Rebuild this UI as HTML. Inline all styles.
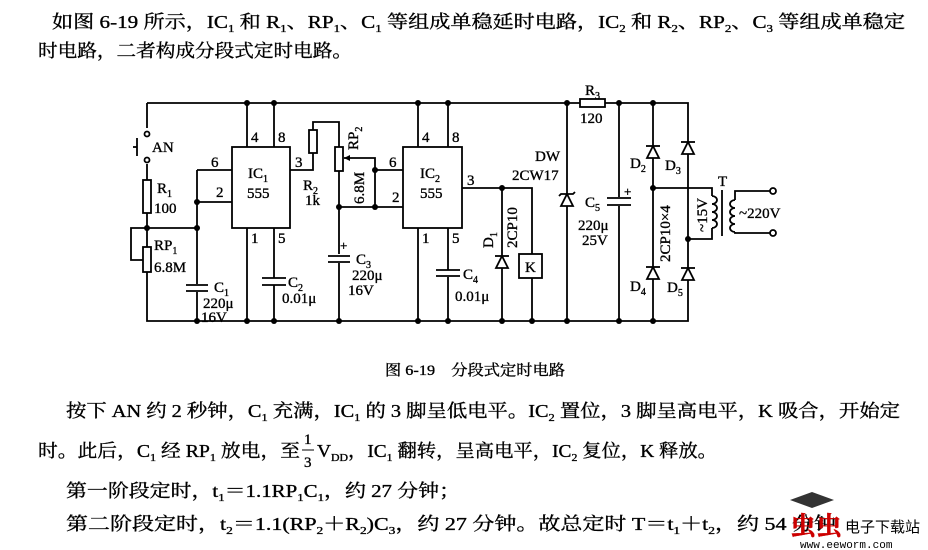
<!DOCTYPE html>
<html><head><meta charset="utf-8"><style>
html,body{margin:0;padding:0;background:#fff}
svg{display:block}
text{font-family:"Liberation Serif","Noto Serif CJK SC","Noto Sans CJK SC",serif;fill:#000;stroke:#000;stroke-width:0.35}
.t{font-size:18px}
.s{font-size:15px}
</style></head><body>
<svg width="928" height="550" viewBox="0 0 928 550" xmlns="http://www.w3.org/2000/svg">
<text class="t" x="52" y="28" textLength="853" lengthAdjust="spacingAndGlyphs">如图 6-19 所示，IC<tspan font-size="11" dy="4">1</tspan><tspan dy="-4"> 和 R</tspan><tspan font-size="11" dy="4">1</tspan><tspan dy="-4">、RP</tspan><tspan font-size="11" dy="4">1</tspan><tspan dy="-4">、C</tspan><tspan font-size="11" dy="4">1</tspan><tspan dy="-4"> 等组成单稳延时电路，IC</tspan><tspan font-size="11" dy="4">2</tspan><tspan dy="-4"> 和 R</tspan><tspan font-size="11" dy="4">2</tspan><tspan dy="-4">、RP</tspan><tspan font-size="11" dy="4">2</tspan><tspan dy="-4">、C</tspan><tspan font-size="11" dy="4">3</tspan><tspan dy="-4"> 等组成单稳定</tspan></text>
<text class="t" x="38" y="57" textLength="314" lengthAdjust="spacingAndGlyphs">时电路，二者构成分段式定时电路。</text>

<g stroke="#000" stroke-width="1.8" fill="none">
<polyline points="147,103 688,103 688,321 147,321 147,103"/>
<rect x="142" y="128" width="10" height="36" fill="#fff" stroke="none"/>
<circle cx="147" cy="134" r="2.5" fill="#fff"/>
<circle cx="147" cy="160" r="2.5" fill="#fff"/>
<line x1="137" y1="138" x2="137" y2="156"/>
<line x1="133" y1="147" x2="137" y2="147"/>
<rect x="143" y="180" width="8" height="33" fill="#fff"/>
<rect x="143" y="247" width="8" height="25" fill="#fff"/>
<polyline points="147,228 131,228 131,260 143,260"/>
<line x1="197" y1="170" x2="197" y2="321"/>
<rect x="186" y="284" width="22" height="8" fill="#fff" stroke="none"/>
<line x1="186" y1="285" x2="208" y2="285"/>
<line x1="186" y1="291" x2="208" y2="291"/>
<line x1="147" y1="228" x2="197" y2="228"/>
<line x1="197" y1="170" x2="232" y2="170"/>
<line x1="197" y1="202" x2="232" y2="202"/>
<rect x="232" y="147" width="58" height="81" fill="#fff"/>
<line x1="247" y1="103" x2="247" y2="147"/><line x1="274" y1="103" x2="274" y2="147"/>
<line x1="247" y1="228" x2="247" y2="321"/><line x1="274" y1="228" x2="274" y2="321"/>
<rect x="262" y="278" width="24" height="7" fill="#fff" stroke="none"/>
<line x1="262" y1="278" x2="286" y2="278"/><line x1="262" y1="285" x2="286" y2="285"/>
<polyline points="290,170 313,170 313,122 339,122 339,321"/>
<rect x="309" y="130" width="8" height="23" fill="#fff"/>
<rect x="335" y="147" width="8" height="24" fill="#fff"/>
<polyline points="344,158 375,158 375,207 339,207"/>
<line x1="375" y1="170" x2="403" y2="170"/>
<line x1="375" y1="207" x2="403" y2="207"/>
<rect x="327" y="254" width="24" height="9" fill="#fff" stroke="none"/>
<line x1="328" y1="256" x2="350" y2="256"/><line x1="328" y1="262" x2="350" y2="262"/>
<rect x="403" y="147" width="59" height="81" fill="#fff"/>
<line x1="418" y1="103" x2="418" y2="147"/><line x1="448" y1="103" x2="448" y2="147"/>
<line x1="418" y1="228" x2="418" y2="321"/><line x1="448" y1="228" x2="448" y2="321"/>
<rect x="436" y="270" width="24" height="7" fill="#fff" stroke="none"/>
<line x1="436" y1="270" x2="460" y2="270"/><line x1="436" y1="276" x2="460" y2="276"/>
<polyline points="462,188 532,188 532,321"/>
<line x1="502" y1="188" x2="502" y2="321"/>
<polygon points="496,268 508,268 502,256" fill="#fff"/>
<line x1="495" y1="256" x2="509" y2="256"/>
<rect x="519" y="254" width="23" height="24" fill="#fff"/>
<line x1="567" y1="103" x2="567" y2="321"/>
<polygon points="561,206 573,206 567,194" fill="#fff"/>
<polyline points="559,196 561,194 573,194 575,192"/>
<rect x="580" y="99" width="25" height="8" fill="#fff"/>
<line x1="619" y1="103" x2="619" y2="321"/>
<rect x="607" y="197" width="24" height="9" fill="#fff" stroke="none"/>
<line x1="607" y1="198" x2="631" y2="198"/><line x1="607" y1="205" x2="631" y2="205"/>
<line x1="653" y1="103" x2="653" y2="321"/>
<polygon points="647,158 659,158 653,146" fill="#fff"/><line x1="646" y1="146" x2="660" y2="146"/>
<polygon points="647,279 659,279 653,267" fill="#fff"/><line x1="646" y1="267" x2="660" y2="267"/>
<polygon points="682,154 694,154 688,142" fill="#fff"/><line x1="681" y1="142" x2="695" y2="142"/>
<polygon points="682,280 694,280 688,268" fill="#fff"/><line x1="681" y1="268" x2="695" y2="268"/>
<polyline points="653,188 712,188 712,196"/>
<polyline points="688,239 712,239 712,228"/>
<path d="M712,196 a5,4 0 0 1 0,8 a5,4 0 0 1 0,8 a5,4 0 0 1 0,8 a5,4 0 0 1 0,8"/>
<line x1="722" y1="190" x2="722" y2="236"/>
<path d="M735,200 a5,4 0 0 0 0,8 a5,4 0 0 0 0,8 a5,4 0 0 0 0,8 a5,4 0 0 0 0,8"/>
<polyline points="735,200 735,191 770,191"/>
<polyline points="735,232 735,233 770,233"/>
<circle cx="773" cy="191" r="3" fill="#fff"/>
<circle cx="773" cy="233" r="3" fill="#fff"/>
</g>
<g fill="#000">
<circle cx="247" cy="103" r="3"/><circle cx="274" cy="103" r="3"/>
<circle cx="418" cy="103" r="3"/><circle cx="448" cy="103" r="3"/>
<circle cx="567" cy="103" r="3"/><circle cx="619" cy="103" r="3"/><circle cx="653" cy="103" r="3"/>
<circle cx="147" cy="228" r="3"/><circle cx="197" cy="228" r="3"/><circle cx="197" cy="202" r="3"/>
<circle cx="375" cy="170" r="3"/><circle cx="375" cy="207" r="3"/><circle cx="339" cy="207" r="3"/>
<circle cx="502" cy="188" r="3"/><circle cx="653" cy="188" r="3"/><circle cx="688" cy="239" r="3"/>
<circle cx="197" cy="321" r="3"/><circle cx="247" cy="321" r="3"/><circle cx="274" cy="321" r="3"/>
<circle cx="339" cy="321" r="3"/><circle cx="418" cy="321" r="3"/><circle cx="448" cy="321" r="3"/>
<circle cx="502" cy="321" r="3"/><circle cx="532" cy="321" r="3"/><circle cx="567" cy="321" r="3"/>
<circle cx="619" cy="321" r="3"/><circle cx="653" cy="321" r="3"/>
<polygon points="344,158 350,155 350,161"/>
</g>
<g class="s">
<text x="152" y="152">AN</text>
<text x="157" y="193">R<tspan font-size="10" dy="4">1</tspan></text>
<text x="154" y="213">100</text>
<text x="154" y="250">RP<tspan font-size="10" dy="4">1</tspan></text>
<text x="154" y="272">6.8M</text>
<text x="214" y="292">C<tspan font-size="10" dy="4">1</tspan></text>
<text x="203" y="308">220μ</text>
<text x="201" y="322">16V</text>
<text x="211" y="167">6</text><text x="216" y="197">2</text>
<text x="251" y="142">4</text><text x="278" y="142">8</text>
<text x="251" y="243">1</text><text x="278" y="243">5</text>
<text x="248" y="178">IC<tspan font-size="10" dy="4">1</tspan></text>
<text x="247" y="198">555</text>
<text x="295" y="167">3</text>
<text x="303" y="190">R<tspan font-size="10" dy="4">2</tspan></text>
<text x="305" y="205">1k</text>
<text x="288" y="287">C<tspan font-size="10" dy="4">2</tspan></text>
<text x="282" y="303">0.01μ</text>
<text x="356" y="264">C<tspan font-size="10" dy="4">3</tspan></text>
<text x="352" y="280">220μ</text>
<text x="348" y="295">16V</text>
<text x="340" y="250" font-size="13">+</text>
<text transform="translate(358,150) rotate(-90)">RP<tspan font-size="10" dy="4">2</tspan></text>
<text transform="translate(364,204) rotate(-90)">6.8M</text>
<text x="389" y="167">6</text><text x="392" y="202">2</text>
<text x="422" y="142">4</text><text x="452" y="142">8</text>
<text x="422" y="243">1</text><text x="452" y="243">5</text>
<text x="420" y="178">IC<tspan font-size="10" dy="4">2</tspan></text>
<text x="420" y="198">555</text>
<text x="467" y="185">3</text>
<text x="463" y="279">C<tspan font-size="10" dy="4">4</tspan></text>
<text x="455" y="301">0.01μ</text>
<text transform="translate(493,248) rotate(-90)">D<tspan font-size="10" dy="4">1</tspan></text>
<text transform="translate(517,248) rotate(-90)">2CP10</text>
<text x="525" y="272">K</text>
<text x="535" y="161">DW</text>
<text x="512" y="180">2CW17</text>
<text x="585" y="95">R<tspan font-size="10" dy="4">3</tspan></text>
<text x="580" y="123">120</text>
<text x="585" y="207">C<tspan font-size="10" dy="4">5</tspan></text>
<text x="578" y="230">220μ</text>
<text x="582" y="245">25V</text>
<text x="624" y="196" font-size="13">+</text>
<text x="630" y="168">D<tspan font-size="10" dy="4">2</tspan></text>
<text x="665" y="170">D<tspan font-size="10" dy="4">3</tspan></text>
<text x="630" y="291">D<tspan font-size="10" dy="4">4</tspan></text>
<text x="667" y="292">D<tspan font-size="10" dy="4">5</tspan></text>
<text transform="translate(670,262) rotate(-90)">2CP10×4</text>
<text transform="translate(707,232) rotate(-90)">~15V</text>
<text x="718" y="186">T</text>
<text x="739" y="218">~220V</text>
</g>
<text class="s" x="385" y="375" textLength="180" lengthAdjust="spacingAndGlyphs">图 6-19　分段式定时电路</text>
<text class="t" x="66" y="417" textLength="834" lengthAdjust="spacingAndGlyphs">按下 AN 约 2 秒钟，C<tspan font-size="11" dy="4">1</tspan><tspan dy="-4"> 充满，IC</tspan><tspan font-size="11" dy="4">1</tspan><tspan dy="-4"> 的 3 脚呈低电平。IC</tspan><tspan font-size="11" dy="4">2</tspan><tspan dy="-4"> 置位，3 脚呈高电平，K 吸合，开始定</tspan></text>
<text class="t" x="38" y="457" textLength="262" lengthAdjust="spacingAndGlyphs">时。此后，C<tspan font-size="11" dy="4">1</tspan><tspan dy="-4"> 经 RP</tspan><tspan font-size="11" dy="4">1</tspan><tspan dy="-4"> 放电，至</tspan></text>
<text class="s" x="304" y="444">1</text>
<line x1="302" y1="450" x2="314" y2="450" stroke="#000" stroke-width="1"/>
<text class="s" x="304" y="467">3</text>
<text class="t" x="317" y="457" textLength="400" lengthAdjust="spacingAndGlyphs">V<tspan font-size="11" dy="4">DD</tspan><tspan dy="-4">，IC</tspan><tspan font-size="11" dy="4">1</tspan><tspan dy="-4"> 翻转，呈高电平，IC</tspan><tspan font-size="11" dy="4">2</tspan><tspan dy="-4"> 复位，K 释放。</tspan></text>
<text class="t" x="66" y="497" textLength="394" lengthAdjust="spacingAndGlyphs">第一阶段定时，t<tspan font-size="11" dy="4">1</tspan><tspan dy="-4">＝1.1RP</tspan><tspan font-size="11" dy="4">1</tspan><tspan dy="-4">C</tspan><tspan font-size="11" dy="4">1</tspan><tspan dy="-4">，约 27 分钟；</tspan></text>
<text class="t" x="66" y="530" textLength="770" lengthAdjust="spacingAndGlyphs">第二阶段定时，t<tspan font-size="11" dy="4">2</tspan><tspan dy="-4">＝1.1(RP</tspan><tspan font-size="11" dy="4">2</tspan><tspan dy="-4">＋R</tspan><tspan font-size="11" dy="4">2</tspan><tspan dy="-4">)C</tspan><tspan font-size="11" dy="4">3</tspan><tspan dy="-4">，约 27 分钟。故总定时 T＝t</tspan><tspan font-size="11" dy="4">1</tspan><tspan dy="-4">＋t</tspan><tspan font-size="11" dy="4">2</tspan><tspan dy="-4">，约 54 分钟</tspan></text>
<polygon points="790,500 812,492 834,500 812,508" fill="#333"/>
<text x="790" y="535" font-size="26" font-weight="bold" style="fill:#c00;stroke:#c00">虫虫</text>
<text x="845" y="532" font-size="15" style="font-family:'Noto Sans CJK SC',sans-serif;stroke-width:0">电子下载站</text>
<text x="800" y="548" font-size="11" style="font-family:'Liberation Mono',monospace;stroke-width:0">www.eeworm.com</text>
</svg>
</body></html>
